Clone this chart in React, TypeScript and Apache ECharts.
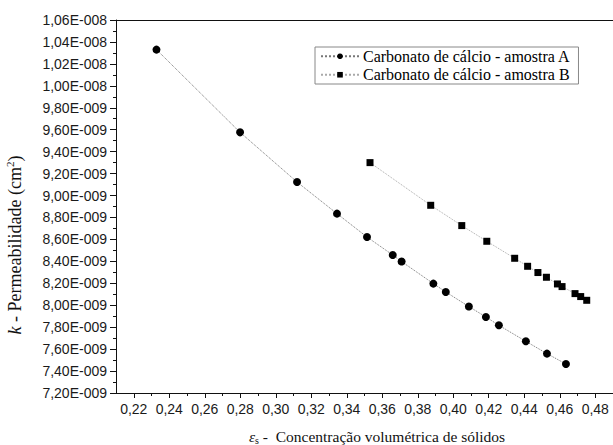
import React, { useEffect, useRef } from "react";
import * as echarts from "echarts";

// Solids volumetric concentration (x) and permeability k, in units of 1E-009 cm²
const concA = [0.2328, 0.2799, 0.312, 0.3345, 0.3514, 0.3659, 0.3709, 0.3888, 0.3958, 0.4088, 0.4184, 0.4257, 0.4409, 0.4528, 0.4635];
const permA = [10.33, 9.576, 9.123, 8.835, 8.622, 8.458, 8.398, 8.197, 8.121, 7.988, 7.893, 7.817, 7.671, 7.559, 7.464];
const concB = [0.3531, 0.3873, 0.4048, 0.4189, 0.4346, 0.4419, 0.4477, 0.4525, 0.4587, 0.4613, 0.4686, 0.4718, 0.4752];
const permB = [9.3, 8.911, 8.726, 8.583, 8.428, 8.355, 8.298, 8.255, 8.194, 8.17, 8.106, 8.079, 8.045];

const seriesNames = ["Carbonato de cálcio - amostra A", "Carbonato de cálcio - amostra B"];
const xMajorTicks = [0.22, 0.24, 0.26, 0.28, 0.3, 0.32, 0.34, 0.36, 0.38, 0.4, 0.42, 0.44, 0.46, 0.48];
const xMinorTicks = [0.23, 0.25, 0.27, 0.29, 0.31, 0.33, 0.35, 0.37, 0.39, 0.41, 0.43, 0.45, 0.47];

const fmtY = (v: number) => {
  const real = v * 1e-9;
  const exp = Math.floor(Math.log10(real) + 1e-9);
  const mant = real / Math.pow(10, exp);
  return mant.toFixed(2).replace(".", ",") + "E-" + String(-exp).padStart(3, "0");
};

export default function App() {
  const ref = useRef<HTMLDivElement>(null);
  useEffect(() => {
    const chart = echarts.init(ref.current!, null, { renderer: "svg" });
    const axisColor = "#111";
    const serif = "'Liberation Serif', 'Times New Roman', serif";
    const labelFont = { fontFamily: "'Liberation Sans', Arial, sans-serif", fontSize: 14, color: "#1a1a1a" };
    chart.setOption({
      animation: false,
      backgroundColor: "#fff",
      grid: { left: 116, right: 0, top: 20, bottom: 52 },
      legend: {
        orient: "vertical",
        left: 315,
        top: 47,
        padding: [0, 8, 0, 5],
        itemGap: 0,
        itemWidth: 38,
        itemHeight: 7,
        borderColor: "#888",
        borderWidth: 1,
        textStyle: { fontFamily: serif, fontSize: 16, lineHeight: 18.5, color: "#000", padding: [0, 0, 0, -1] },
        data: seriesNames,
      },
      xAxis: [
        {
          type: "value",
          min: 0.21,
          max: 0.49,
          position: "bottom",
          axisLine: { show: true, lineStyle: { color: axisColor, width: 1 } },
          axisTick: { show: true, length: 5, customValues: xMajorTicks, lineStyle: { color: axisColor } },
          axisLabel: { ...labelFont, margin: 9, customValues: xMajorTicks, formatter: (v: number) => v.toFixed(2).replace(".", ",") },
          splitLine: { show: false },
        },
        {
          type: "value",
          min: 0.21,
          max: 0.49,
          position: "bottom",
          axisLine: { show: false },
          axisTick: { show: true, length: 3, customValues: xMinorTicks, lineStyle: { color: axisColor } },
          axisLabel: { show: false },
          splitLine: { show: false },
        },
        {
          type: "value",
          min: 0.21,
          max: 0.49,
          position: "top",
          axisLine: { show: true, lineStyle: { color: axisColor, width: 1 } },
          axisTick: { show: false },
          axisLabel: { show: false },
          splitLine: { show: false },
        },
      ],
      yAxis: {
        type: "value",
        min: 7.2,
        max: 10.6,
        interval: 0.2,
        axisLine: { show: true, lineStyle: { color: axisColor, width: 1 } },
        axisTick: { show: true, length: 6, lineStyle: { color: axisColor } },
        minorTick: { show: true, splitNumber: 2, length: 3, lineStyle: { color: axisColor } },
        axisLabel: { ...labelFont, margin: 9, formatter: fmtY },
        splitLine: { show: false },
      },
      graphic: [
        {
          type: "text",
          x: 15,
          y: 245,
          rotation: Math.PI / 2,
          style: {
            text: "{i|k} - Permeabilidade (cm{sup|2})",
            align: "center",
            verticalAlign: "middle",
            fontFamily: serif,
            fontSize: 18,
            fill: "#111",
            rich: {
              i: { fontStyle: "italic", fontFamily: serif, fontSize: 18 },
              sup: { fontSize: 11, fontFamily: serif, padding: [0, 0, 10, 0] },
            },
          },
        },
        {
          type: "text",
          x: 377,
          y: 436,
          style: {
            text: "{e|ε}{sub|s} -  Concentração volumétrica de sólidos",
            align: "center",
            verticalAlign: "middle",
            fontFamily: serif,
            fontSize: 15.5,
            fill: "#111",
            rich: {
              e: { fontStyle: "italic", fontFamily: serif, fontSize: 15.5 },
              sub: { fontSize: 10, fontFamily: serif, padding: [8, 0, 0, 0] },
            },
          },
        },
      ],
      series: [
        {
          name: seriesNames[0],
          type: "line",
          data: concA.map((x, i) => [x, permA[i]]),
          symbol: "circle",
          symbolSize: 8,
          itemStyle: { color: "#000" },
          lineStyle: { color: "#777", width: 1, type: "dotted" },
        },
        {
          name: seriesNames[1],
          type: "line",
          data: concB.map((x, i) => [x, permB[i]]),
          symbol: "rect",
          symbolSize: 7,
          itemStyle: { color: "#000" },
          lineStyle: { color: "#aaa", width: 1, type: "dotted" },
        },
      ],
    });
    return () => chart.dispose();
  }, []);
  return <div ref={ref} style={{ position: "fixed", left: 0, top: 0, width: 613, height: 445, background: "#fff" }} />;
}
